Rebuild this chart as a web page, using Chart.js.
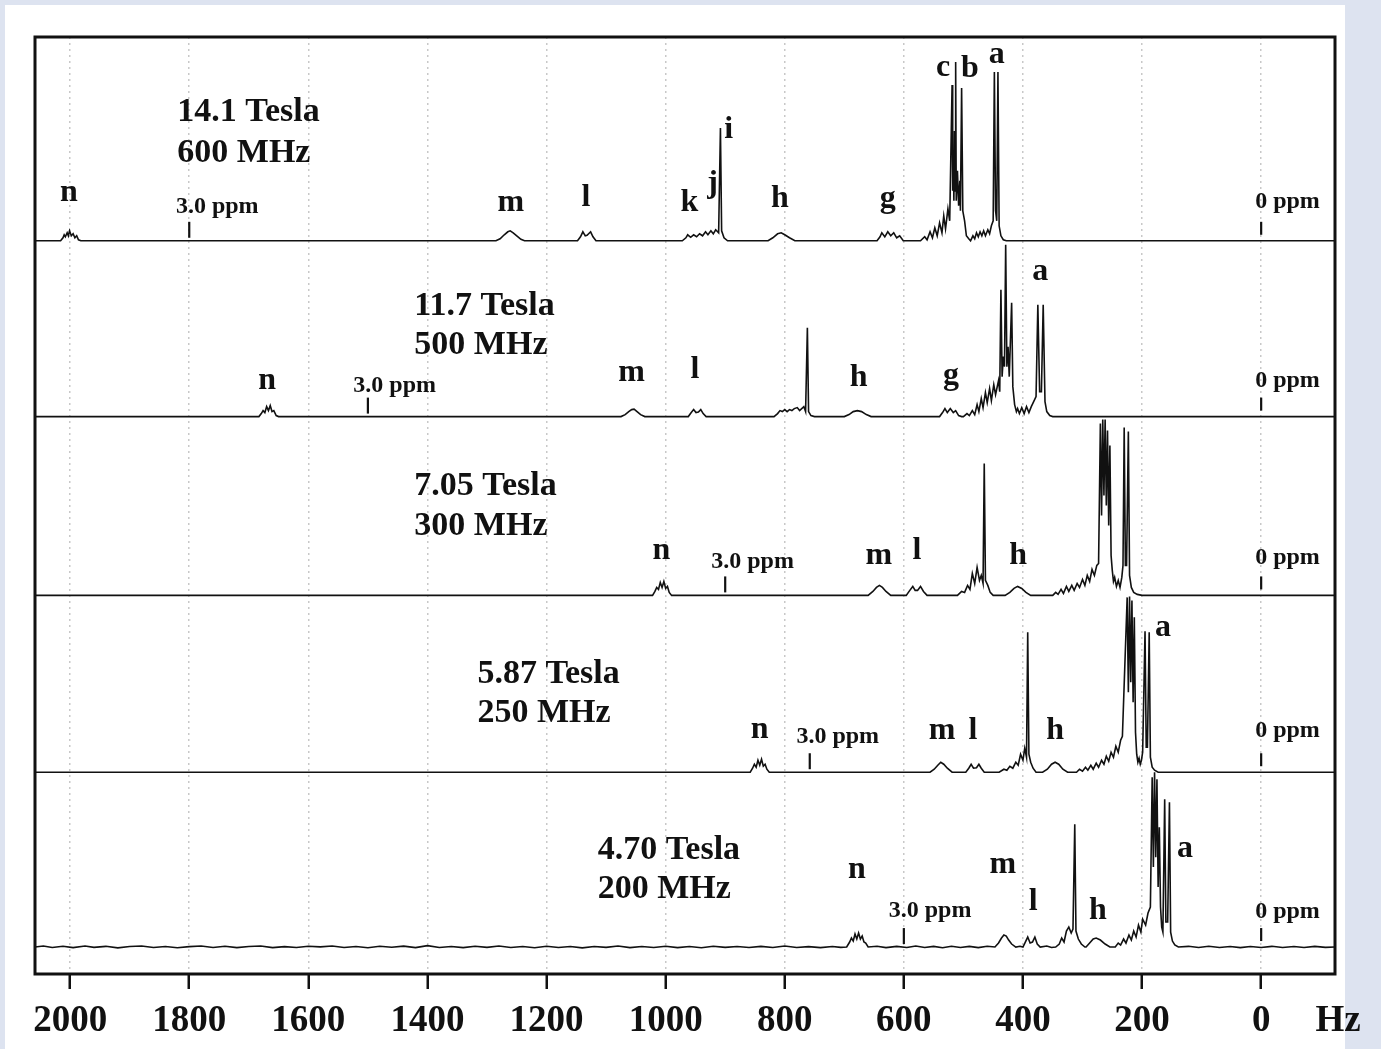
<!DOCTYPE html>
<html>
<head>
<meta charset="utf-8">
<script src="https://cdn.jsdelivr.net/npm/chart.js@4.4.1/dist/chart.umd.min.js"></script>
<style>
  html, body { margin: 0; padding: 0; background: #dde3f0; }
  #paper { position: absolute; left: 5px; top: 5px; width: 1340px; height: 1044px; background: #fff; }
  #wrap { position: absolute; left: 0; top: 0; width: 1381px; height: 1049px; }
</style>
</head>
<body>
<div id="paper"></div>
<div id="wrap"><canvas id="nmrChart" width="1381" height="1049"></canvas></div>
<script>
/* Axis ticks (Hz) */
const xTicks = [2000, 1800, 1600, 1400, 1200, 1000, 800, 600, 400, 200, 0];

/* Field strength labels, one per trace (top to bottom) */
const fieldLabels = ['14.1 Tesla', '11.7 Tesla', '7.05 Tesla', '5.87 Tesla', '4.70 Tesla'];
const freqLabels = ['600 MHz', '500 MHz', '300 MHz', '250 MHz', '200 MHz'];

/* Vertical stacking offset of each trace (intensity units) */
const stackOffsets = [73.4, 55.8, 37.9, 20.2, 2.7];

/* Reference markers: 3.0 ppm and 0 ppm positions (Hz) */
const ppm3Hz = [1800, 1500, 900, 758, 600];
const ppm0Hz = [0, 0, 0, 0, 0];

/* Spectra as [Hz, intensity] */
const spec600 = [
  [2059, 0], [2016, 0], [2012, 0.3], [2010, 0.6], [2008, 0.4], [2005, 0.8], [2003, 0.5], [2001, 1.0],
  [1998, 0.5], [1995, 0.7], [1992, 0.3], [1989, 0.5], [1986, 0.1], [1982, 0],
  [1285, 0], [1278, 0.2], [1271, 0.6], [1265, 0.9], [1261, 1.0], [1256, 0.8], [1250, 0.5], [1243, 0.15], [1237, 0],
  [1148, 0], [1143, 0.4], [1139, 0.9], [1135, 0.5], [1132, 0.55], [1126, 0.9], [1122, 0.4], [1117, 0],
  [972, 0], [966, 0.3], [963, 0.6], [958, 0.35], [953, 0.6], [948, 0.4], [943, 0.7], [938, 0.5], [933, 0.9],
  [929, 0.6], [924, 1.0], [920, 0.7], [916, 1.1], [911, 0.8], [908, 11.3], [906, 1.0], [902, 0.3], [896, 0],
  [828, 0], [820, 0.3], [812, 0.7], [806, 0.8], [800, 0.6], [792, 0.3], [783, 0],
  [645, 0], [640, 0.4], [637, 0.8], [632, 0.4], [627, 0.9], [622, 0.5], [617, 0.8], [612, 0.3], [607, 0.5], [601, 0],
  [572, 0], [565, 0.4], [561, 0.1], [556, 0.9], [552, 0.3], [548, 1.3], [544, 0.5], [540, 1.8], [536, 0.8],
  [533, 2.5], [530, 1.2], [526, 3.2], [523, 2.0],
  [519, 15.6], [518, 5], [517, 9], [516, 4], [515, 11], [514, 5], [513, 17.9], [512, 4], [510, 7], [508, 3.5],
  [506, 6], [505, 3], [503, 15.3], [501, 3], [498, 2], [495, 0.5], [491, 0.2], [488, 0],
  [484, 0.5], [481, 0.2], [478, 0.8], [475, 0.4], [472, 0.9], [469, 0.5], [466, 1.0], [463, 0.5], [459, 1.1],
  [456, 0.7], [453, 1.5], [450, 2.0],
  [448, 16.9], [446, 3], [444, 2], [442, 16.9], [440, 1.5], [437, 0.5], [433, 0.1], [428, 0],
  [-124, 0]
];

const spec500 = [
  [2059, 0], [1683, 0], [1679, 0.3], [1676, 0.6], [1673, 0.4], [1670, 1.0], [1667, 0.6], [1664, 1.1],
  [1661, 0.5], [1658, 0.6], [1654, 0.1], [1650, 0],
  [1075, 0], [1068, 0.2], [1062, 0.5], [1057, 0.7], [1053, 0.75], [1048, 0.5], [1042, 0.2], [1035, 0],
  [962, 0], [957, 0.4], [953, 0.7], [949, 0.4], [945, 0.45], [941, 0.7], [937, 0.3], [932, 0],
  [818, 0], [812, 0.3], [808, 0.6], [804, 0.5], [800, 0.7], [796, 0.5], [792, 0.7], [788, 0.6], [784, 0.8],
  [779, 0.9], [775, 0.6], [768, 1.0], [765, 0.5], [762, 8.9], [760, 0.5], [756, 0.1], [750, 0],
  [700, 0], [692, 0.2], [685, 0.5], [678, 0.6], [671, 0.5], [663, 0.2], [655, 0],
  [540, 0], [535, 0.4], [531, 0.8], [527, 0.4], [522, 0.8], [517, 0.4], [513, 0.6], [508, 0.1], [503, 0],
  [500, 0], [494, 0.3], [490, 0.1], [485, 0.6], [481, 0.2], [477, 1.2], [474, 0.5], [470, 1.8], [467, 0.9],
  [463, 2.4], [460, 1.4], [456, 2.8], [453, 1.6], [449, 3.2], [446, 2.2], [441, 3.6], [439, 2.5],
  [437, 12.7], [435, 4], [433, 6], [431, 5], [429, 17.2], [427, 5], [425, 7], [423, 4], [419, 11.4],
  [417, 3], [414, 1.2], [411, 0.5],
  [409, 0.8], [406, 0.3], [402, 0.9], [398, 0.3], [394, 1.0], [390, 0.4], [386, 1.0], [382, 1.5], [378, 2.0],
  [375, 11.2], [372, 2.5], [369, 2.5], [366, 11.2], [363, 1.5], [360, 0.5], [355, 0.1], [350, 0],
  [-124, 0]
];

const spec300 = [
  [2059, 0], [1022, 0], [1018, 0.4], [1015, 0.8], [1012, 0.6], [1009, 1.3], [1006, 0.8], [1003, 1.4],
  [1000, 0.7], [997, 0.9], [994, 0.3], [990, 0],
  [660, 0], [652, 0.4], [646, 0.8], [641, 1.0], [636, 0.8], [630, 0.4], [622, 0],
  [596, 0], [590, 0.5], [585, 0.9], [581, 0.5], [577, 0.5], [572, 0.9], [567, 0.4], [561, 0],
  [510, 0], [503, 0.4], [498, 0.3], [493, 1.0], [489, 0.6], [485, 2.2], [481, 1.2], [477, 2.8], [473, 1.5],
  [470, 2.0], [467, 1.2], [465, 13.2], [463, 1.5], [459, 1.0], [455, 0.3], [450, 0],
  [430, 0], [422, 0.3], [415, 0.7], [409, 0.9], [402, 0.7], [395, 0.3], [387, 0],
  [350, 0], [345, 0.3], [341, 0.1], [336, 0.6], [332, 0.2], [327, 0.9], [323, 0.4], [318, 1.0], [314, 0.5],
  [309, 1.2], [305, 0.8], [300, 1.6], [296, 1.0], [292, 2.0], [288, 1.4], [284, 2.6], [280, 2.0], [276, 3.0], [273, 3.2],
  [270, 17.2], [268, 8], [266, 17.6], [264, 10], [262, 17.6], [260, 9], [258, 16.5], [256, 7], [254, 15],
  [252, 4], [250, 2.5], [248, 1.4], [246, 1.8], [243, 0.9], [240, 1.5], [237, 0.8], [234, 1.8], [232, 3],
  [230, 16.8], [228, 3], [226, 3], [223, 16.4], [221, 2], [218, 0.8], [214, 0.3], [208, 0.1], [200, 0],
  [-124, 0]
];

const spec250 = [
  [2059, 0], [858, 0], [854, 0.4], [851, 0.8], [848, 0.5], [845, 1.2], [842, 0.7], [839, 1.3], [836, 0.6],
  [833, 0.8], [830, 0.3], [826, 0],
  [556, 0], [549, 0.3], [543, 0.7], [538, 1.0], [533, 0.8], [527, 0.4], [519, 0],
  [496, 0], [491, 0.4], [487, 0.8], [483, 0.4], [478, 0.45], [474, 0.8], [470, 0.4], [465, 0],
  [440, 0], [432, 0.3], [427, 0.2], [422, 0.6], [417, 0.4], [412, 1.0], [408, 0.7], [404, 1.8], [400, 1.2],
  [397, 2.4], [394, 1.5], [392, 14.0], [390, 1.8], [387, 1.0], [383, 0.4], [378, 0],
  [367, 0], [359, 0.3], [352, 0.8], [346, 1.0], [340, 0.8], [333, 0.3], [325, 0],
  [310, 0], [305, 0.3], [300, 0.1], [295, 0.5], [291, 0.2], [286, 0.7], [282, 0.3], [277, 0.9], [273, 0.5],
  [268, 1.2], [264, 0.8], [260, 1.6], [256, 1.1], [252, 2.0], [248, 1.5], [244, 2.6], [240, 2.0], [236, 3.2], [233, 3.6],
  [225, 17.5], [223, 8], [221, 17.6], [219, 9], [217, 17.2], [215, 7], [213, 15.5], [211, 4], [209, 1.8],
  [207, 1.0], [205, 1.4], [203, 0.8], [201, 1.2], [199, 2],
  [195, 14.1], [193, 2.5], [191, 2.5], [188, 14.0], [186, 1.5], [183, 0.5], [179, 0.2], [173, 0],
  [-124, 0]
];

const spec200 = [
  [2059, 0], [2045, 0.1], [2030, -0.05], [2012, 0.08], [1995, -0.06], [1975, 0.1], [1960, -0.03], [1940, 0.07],
  [1920, -0.08], [1900, 0.05], [1880, 0.1], [1860, -0.05], [1840, 0.06], [1820, -0.07], [1800, 0.04], [1780, 0.1],
  [1760, -0.04], [1740, 0.08], [1720, -0.06], [1700, 0.05], [1680, 0.1], [1660, -0.06], [1640, 0.04], [1620, -0.05],
  [1600, 0.08], [1580, 0.02], [1560, 0.1], [1540, -0.05], [1520, 0.06], [1500, -0.07], [1480, 0.08], [1460, -0.02],
  [1440, 0.09], [1420, -0.06], [1400, 0.14], [1380, -0.05], [1360, 0.05], [1340, -0.06], [1320, 0.08], [1300, -0.03],
  [1280, 0.1], [1260, -0.05], [1240, 0.06], [1220, -0.07], [1200, 0.08], [1180, -0.04], [1160, 0.05], [1140, -0.08],
  [1120, 0.06], [1100, -0.03], [1080, 0.1], [1060, -0.06], [1040, 0.05], [1020, -0.04], [1000, 0.08], [980, -0.06],
  [960, 0.05], [940, -0.07], [920, 0.08], [900, -0.03], [880, 0.06], [860, -0.05], [840, 0.07], [820, -0.04],
  [800, 0.1], [780, -0.05], [760, 0.04], [740, -0.06], [720, 0.06], [706, -0.03], [696, 0],
  [691, 0.5], [688, 0.9], [685, 0.6], [682, 1.3], [679, 0.8], [676, 1.4], [673, 0.8], [670, 1.1], [667, 0.5],
  [664, 0.4], [660, 0],
  [645, 0.08], [630, -0.06], [612, 0.06], [595, -0.05], [580, 0.1], [565, -0.04], [550, 0.06], [535, -0.07],
  [520, 0.08], [505, -0.04], [490, 0.06], [475, -0.06], [460, 0.08], [447, 0],
  [441, 0.4], [436, 0.9], [432, 1.2], [428, 1.1], [424, 0.7], [419, 0.3], [412, 0], [405, 0.08],
  [400, 0], [396, 0.5], [392, 1.0], [388, 0.4], [384, 0.5], [380, 1.0], [376, 0.3], [371, 0], [360, 0.1], [352, -0.05],
  [345, 0], [339, 0.3], [335, 0.9], [331, 0.5], [327, 1.6], [323, 2.0], [319, 1.4], [316, 1.8], [313, 12.3],
  [311, 1.6], [307, 0.8], [302, 0.3], [296, 0],
  [294, 0], [288, 0.4], [282, 0.8], [277, 0.9], [270, 0.7], [262, 0.3], [254, 0],
  [245, 0], [240, 0.4], [236, 0.2], [231, 0.8], [227, 0.4], [222, 1.2], [218, 0.7], [214, 1.6], [210, 1.0],
  [206, 2.2], [202, 1.5], [199, 2.8], [194, 2.2], [190, 3.4], [186, 4.0],
  [183, 17.0], [181, 8], [179, 17.5], [177, 9], [175, 16.8], [173, 6], [171, 12], [169, 4], [167, 2.0], [165, 1.5],
  [162, 14.8], [160, 2.5], [157, 2.5], [154, 14.5], [152, 1.5], [149, 0.6], [145, 0.2], [139, 0],
  [122, 0.07], [105, -0.05], [88, 0.08], [70, -0.04], [52, 0.06], [35, -0.06], [18, 0.05], [0, -0.04],
  [-18, 0.07], [-36, -0.05], [-55, 0.06], [-72, -0.04], [-90, 0.07], [-108, -0.03], [-124, 0]
];

const spectra = [spec600, spec500, spec300, spec250, spec200];

/* Peak letters per trace: [letter, Hz, height above trace baseline] */
const peakLabels600 = [['n', 2002, 4.8], ['m', 1260, 3.8], ['l', 1134, 4.3], ['k', 960, 3.8], ['j', 921, 5.7],
  ['i', 894, 11.1], ['h', 808, 4.2], ['g', 627, 4.2], ['c', 534, 17.3], ['b', 489, 17.2], ['a', 444, 18.6]];
const peakLabels500 = [['n', 1669, 3.6], ['m', 1057, 4.4], ['l', 951, 4.7], ['h', 676, 3.9], ['g', 521, 4.1], ['a', 371, 14.5]];
const peakLabels300 = [['n', 1007, 4.5], ['m', 642, 4.0], ['l', 578, 4.5], ['h', 408, 4.0]];
const peakLabels250 = [['n', 842, 4.3], ['m', 536, 4.2], ['l', 484, 4.2], ['h', 346, 4.2], ['a', 165, 14.5]];
const peakLabels200 = [['n', 679, 7.7], ['m', 434, 8.2], ['l', 383, 4.5], ['h', 274, 3.6], ['a', 128, 9.8]];
const peakLabels = [peakLabels600, peakLabels500, peakLabels300, peakLabels250, peakLabels200];

/* Title block anchor per trace: [left Hz, field line height, freq line height] */
const titleAnchors = [[1820, 12.9, 8.8], [1422, 11.0, 7.1], [1422, 10.9, 6.9], [1316, 9.8, 5.9], [1114, 9.7, 5.8]];
/* "3.0 ppm" text centre and height; "0 ppm" text height */
const ppm3Text = [[1753, 3.4], [1455, 3.1], [854, 3.4], [711, 3.5], [556, 3.6]];
const ppm0Text = [3.9, 3.6, 3.8, 4.1, 3.5];

const SERIF = '"Liberation Serif", "Times New Roman", serif';

/* Build datasets */
const datasets = [];
spectra.forEach((spec, i) => {
    datasets.push({
        data: spec.map(p => ({x: p[0], y: p[1] + stackOffsets[i]})),
        borderColor: '#111',
        borderWidth: 1.6
    });
    datasets.push({
        data: [{x: ppm3Hz[i], y: stackOffsets[i] + 0.3}, {x: ppm3Hz[i], y: stackOffsets[i] + 1.9}],
        borderColor: '#111',
        borderWidth: 2.2
    });
    datasets.push({
        data: [{x: ppm0Hz[i], y: stackOffsets[i] + 0.6}, {x: ppm0Hz[i], y: stackOffsets[i] + 1.9}],
        borderColor: '#111',
        borderWidth: 2.2
    });
});

/* Frame + annotation text */
const annotations = {
    id: 'annotations',
    afterDatasetsDraw(chart) {
        const {ctx, chartArea: a, scales: {x, y}} = chart;
        ctx.save();
        ctx.fillStyle = '#111';
        ctx.textBaseline = 'middle';

        spectra.forEach((spec, i) => {
            const off = stackOffsets[i];
            // field / frequency
            ctx.font = 'bold 34px ' + SERIF;
            ctx.textAlign = 'left';
            const t = titleAnchors[i];
            ctx.fillText(fieldLabels[i], x.getPixelForValue(t[0]), y.getPixelForValue(off + t[1]));
            ctx.fillText(freqLabels[i], x.getPixelForValue(t[0]), y.getPixelForValue(off + t[2]));
            // peak letters
            ctx.font = 'bold 32px ' + SERIF;
            ctx.textAlign = 'center';
            peakLabels[i].forEach(l => {
                ctx.fillText(l[0], x.getPixelForValue(l[1]), y.getPixelForValue(off + l[2]));
            });
            // ppm markers text
            ctx.font = 'bold 24px ' + SERIF;
            ctx.fillText('3.0 ppm', x.getPixelForValue(ppm3Text[i][0]), y.getPixelForValue(off + ppm3Text[i][1]));
            ctx.textAlign = 'left';
            ctx.fillText('0 ppm', x.getPixelForValue(ppm0Hz[i]) - 6, y.getPixelForValue(off + ppm0Text[i]));
        });

        // frame
        ctx.strokeStyle = '#111';
        ctx.lineWidth = 3;
        ctx.strokeRect(a.left, a.top, a.right - a.left, a.bottom - a.top);

        // unit label
        ctx.font = 'bold 37px ' + SERIF;
        ctx.textAlign = 'center';
        ctx.fillText('Hz', a.right + 3, a.bottom + 47);
        ctx.restore();
    }
};

const config = {
    type: 'line',
    data: {datasets},
    options: {
        responsive: false,
        animation: false,
        layout: {padding: {left: 35, right: 46, top: 37, bottom: -5}},
        elements: {point: {radius: 0}, line: {tension: 0}},
        plugins: {legend: {display: false}, tooltip: {enabled: false}},
        scales: {
            x: {
                type: 'linear',
                reverse: true,
                min: -124,
                max: 2059,
                afterBuildTicks: (axis) => { axis.ticks = xTicks.map(v => ({value: v})); },
                grid: {
                    color: '#c8c8c8',
                    lineWidth: 1.5,
                    tickColor: '#111',
                    tickWidth: 2.5,
                    tickLength: 15,
                    tickBorderDash: []
                },
                border: {display: false, dash: [2, 4]},
                ticks: {
                    color: '#111',
                    padding: 14,
                    maxRotation: 0,
                    autoSkip: false,
                    font: {family: SERIF, size: 37, weight: 'bold', lineHeight: 1},
                    callback: (v) => String(v)
                }
            },
            y: {
                display: false,
                min: 0,
                max: 93.8
            }
        }
    },
    plugins: [annotations]
};

const nmrChart = new Chart(document.getElementById('nmrChart'), config);
</script>
</body>
</html>
